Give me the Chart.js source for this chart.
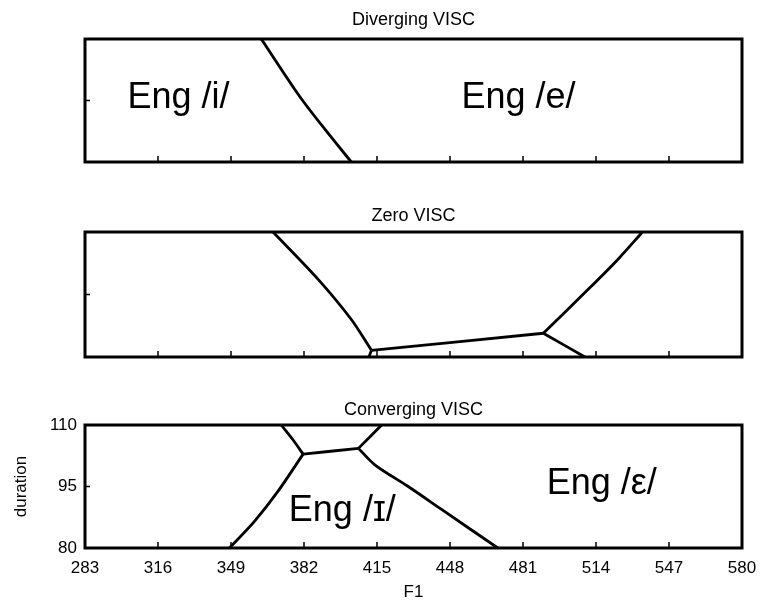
<!DOCTYPE html>
<html>
<head>
<meta charset="utf-8">
<script src="https://cdn.jsdelivr.net/npm/chart.js@4.4.1/dist/chart.umd.min.js"></script>
<style>
  body { margin: 0; background: #fff; }
  #wrap { position: relative; width: 763px; height: 601px; }
  canvas { position: absolute; left: 0; }
</style>
</head>
<body>
<div id="wrap">
  <canvas id="divChart" width="763" height="180" style="top:0px"></canvas>
  <canvas id="zeroChart" width="763" height="180" style="top:190px"></canvas>
  <canvas id="convChart" width="763" height="221" style="top:380px"></canvas>
</div>
<script>
// axis ticks
const f1Ticks = [283, 316, 349, 382, 415, 448, 481, 514, 547, 580];
const durationTicks = [80, 95, 110];

// Diverging VISC: /i/ - /e/ boundary
const divIE_F1 = [362.7, 379.9, 392.6, 403.4];
const divIE_dur = [110, 96.1, 87.2, 80];
const divLabels = ['Eng /i/', 'Eng /e/'];
const divLabelF1 = [325.3, 479.0];
const divLabelDur = [95.6, 95.6];

// Zero VISC boundaries
const zeroLeft_F1 = [368.0, 388.3, 403.4, 412.5];
const zeroLeft_dur = [110, 98.7, 89.0, 81.6];
const zeroStub_F1 = [412.5, 411.3];
const zeroStub_dur = [81.6, 80];
const zeroMid_F1 = [412.5, 490.2];
const zeroMid_dur = [81.6, 85.7];
const zeroRight_F1 = [490.2, 510.6, 524.2, 535.0];
const zeroRight_dur = [85.7, 96.3, 103.6, 110];
const zeroLow_F1 = [490.2, 509.0];
const zeroLow_dur = [85.7, 80];

// Converging VISC boundaries
const convTopLeft_F1 = [371.7, 377.0, 381.6];
const convTopLeft_dur = [110, 106.4, 102.9];
const convMid_F1 = [381.6, 406.6];
const convMid_dur = [102.9, 104.3];
const convTopRight_F1 = [406.6, 417.1];
const convTopRight_dur = [104.3, 110];
const convLeft_F1 = [381.6, 370.2, 359.6, 348.3];
const convLeft_dur = [102.9, 93.8, 86.5, 80];
const convRight_F1 = [406.6, 414.0, 429.1, 444.2, 469.6];
const convRight_dur = [104.3, 100.3, 95.0, 89.4, 80];
const convLabels = ['Eng /\u026A/', 'Eng /\u03B5/'];
const convLabelF1 = [399.3, 516.6];
const convLabelDur = [89.1, 95.5];

Chart.defaults.font.family = '"Liberation Sans", Arial, "DejaVu Sans", sans-serif';
Chart.defaults.color = '#000';

function line(xs, ys) {
    return {
        data: xs.map((x, i) => ({ x: x, y: ys[i] })),
        showLine: true,
        borderColor: '#000',
        borderWidth: 2.8,
        pointRadius: 0,
        tension: 0.3
    };
}

// frame, inward ticks, panel title and region labels
const panelPlugin = {
    id: 'panel',
    afterDraw(chart, args, opts) {
        const ctx = chart.ctx;
        const a = chart.chartArea;
        const xs = chart.scales.x;
        const ys = chart.scales.y;
        ctx.save();

        ctx.fillStyle = '#000';
        ctx.font = '36px "Liberation Sans", Arial, "DejaVu Sans", sans-serif';
        ctx.textAlign = 'center';
        ctx.textBaseline = 'middle';
        (opts.labels || []).forEach((t, i) => {
            ctx.fillText(t, xs.getPixelForValue(opts.labelX[i]), ys.getPixelForValue(opts.labelY[i]));
        });

        ctx.strokeStyle = '#000';
        ctx.lineWidth = 1.5;
        ctx.beginPath();
        f1Ticks.forEach(v => {
            const px = xs.getPixelForValue(v);
            ctx.moveTo(px, a.bottom);
            ctx.lineTo(px, a.bottom - 6);
        });
        const py = ys.getPixelForValue(95);
        ctx.moveTo(a.left, py);
        ctx.lineTo(a.left + 5, py);
        ctx.stroke();

        ctx.lineWidth = 3;
        ctx.strokeRect(a.left, a.top, a.right - a.left, a.bottom - a.top);

        ctx.font = '18px "Liberation Sans", Arial, "DejaVu Sans", sans-serif';
        ctx.fillText(opts.title, (a.left + a.right) / 2, a.top - opts.titleGap);
        ctx.restore();
    }
};

function makePanel(id, datasets, panel, padding, showAxes) {
    const xScale = {
        type: 'linear',
        min: 283,
        max: 580,
        display: showAxes,
        afterBuildTicks: s => { s.ticks = f1Ticks.map(v => ({ value: v })); },
        grid: { display: false, drawTicks: false },
        border: { display: false },
        ticks: { font: { size: 17 }, padding: 10, maxRotation: 0, autoSkip: false },
        title: { display: true, text: 'F1', font: { size: 17, lineHeight: 1 }, padding: 0 }
    };
    const yScale = {
        type: 'linear',
        min: 80,
        max: 110,
        display: showAxes,
        afterBuildTicks: s => { s.ticks = durationTicks.map(v => ({ value: v })); },
        grid: { display: false, drawTicks: false },
        border: { display: false },
        ticks: { font: { size: 17 }, padding: 8 },
        title: { display: true, text: 'duration', font: { size: 17, lineHeight: 1 }, padding: { top: 13, bottom: 0 } }
    };
    if (showAxes) {
        xScale.afterFit = s => { s.height = 53; s.paddingLeft = 0; s.paddingRight = 0; };
        yScale.afterFit = s => { s.width = 85; s.paddingTop = 0; s.paddingBottom = 0; };
    }
    return new Chart(document.getElementById(id), {
        type: 'scatter',
        data: { datasets: datasets },
        options: {
            responsive: false,
            animation: false,
            devicePixelRatio: 1,
            layout: { padding: padding },
            plugins: { legend: { display: false }, tooltip: { enabled: false }, panel: panel },
            scales: { x: xScale, y: yScale }
        },
        plugins: [panelPlugin]
    });
}

makePanel('divChart', [line(divIE_F1, divIE_dur)], {
    title: 'Diverging VISC', titleGap: 19,
    labels: divLabels, labelX: divLabelF1, labelY: divLabelDur
}, { left: 85, right: 21, top: 39, bottom: 18 }, false);

makePanel('zeroChart', [
    line(zeroLeft_F1, zeroLeft_dur),
    line(zeroStub_F1, zeroStub_dur),
    line(zeroMid_F1, zeroMid_dur),
    line(zeroRight_F1, zeroRight_dur),
    line(zeroLow_F1, zeroLow_dur)
], { title: 'Zero VISC', titleGap: 16 }, { left: 85, right: 21, top: 42, bottom: 13 }, false);

makePanel('convChart', [
    line(convTopLeft_F1, convTopLeft_dur),
    line(convMid_F1, convMid_dur),
    line(convTopRight_F1, convTopRight_dur),
    line(convLeft_F1, convLeft_dur),
    line(convRight_F1, convRight_dur)
], {
    title: 'Converging VISC', titleGap: 15,
    labels: convLabels, labelX: convLabelF1, labelY: convLabelDur
}, { left: 0, right: 21, top: 45, bottom: 0 }, true);
</script>
</body>
</html>
